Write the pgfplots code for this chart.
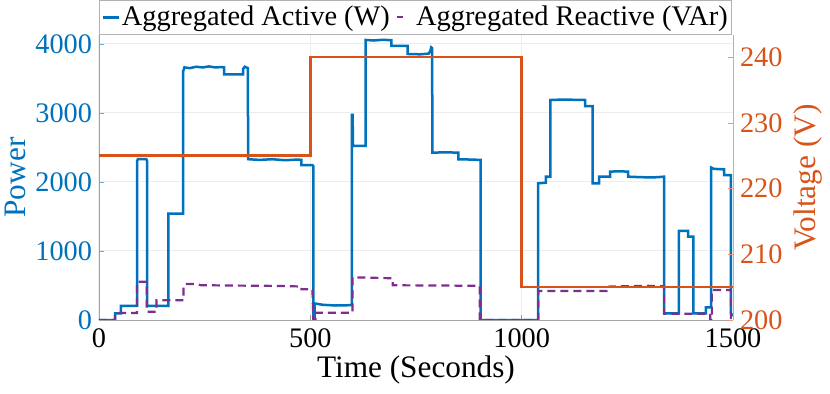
\documentclass[border=0pt]{standalone}
\usepackage{pgfplots}
\pgfplotsset{compat=1.18}
\usepackage{fontspec}
\setmainfont{Liberation Serif}

\definecolor{mblue}{HTML}{0072BD}
\definecolor{morange}{HTML}{D95319}
\definecolor{mpurple}{HTML}{7E2F8E}

\pgfplotsset{
  legsolid/.style={legend image code/.code={\draw[##1] (0bp,0bp) -- (8bp,0bp);}},
  legdash/.style={legend image code/.code={\draw[##1, dash pattern=on 3bp off 9bp] (0bp,0bp) -- (8bp,0bp);}},
}

\begin{document}
\begin{tikzpicture}
\pgfplotsset{
  every axis/.append style={
    scale only axis, width=317bp, height=142.5bp,
    xmin=0, xmax=1500,
    font=\fontsize{14.2}{16}\selectfont,
    label style={font=\fontsize{15.7}{18}\selectfont},
    tick align=inside, major tick length=2.5bp,
    /pgf/number format/assume math mode=true,
    /pgf/number format/1000 sep={},
  },
}
\begin{axis}[
  axis y line*=left, axis x line*=bottom,
  ymin=0, ymax=4130,
  ytick={0,1000,2000,3000,4000},
  xtick={0,500,1000,1500},
  grid=major, grid style={black!7, line width=0.5pt},
  y axis line style={mblue!55},
  x axis line style={black!35},
  ytick style={mblue!60}, xtick style={black!40},
  yticklabel style={mblue},
  xticklabel style={yshift=-1bp},
  ylabel={Power}, ylabel style={mblue, yshift=-2bp},
  xlabel={Time (Seconds)}, xlabel style={yshift=3bp},
  legend columns=2,
  legend cell align=left,
  legend style={at={(rel axis cs:0,1)}, anchor=south west,
    draw=black!30, fill=white, inner xsep=1bp, inner ysep=1.5bp,
    font=\fontsize{14.25}{16}\selectfont,
    nodes={inner xsep=1bp, inner ysep=1.5bp},
    /tikz/every even column/.append style={column sep=2bp}},
]
\addplot[mblue, line width=1.25bp, legsolid] coordinates {
(0,0)(38,0)(38,97)(52,97)(52,203)(90,203)(90,2300)(92,2330)(112,2330)(114,2300)(114,203)
(164,203)(164,1540)(199,1540)(199,3600)(202,3660)(215,3650)(230,3670)(245,3660)(260,3675)
(275,3660)(290,3665)(296,3660)(296,3560)(341,3560)(341,3640)(345,3670)(352,3650)(353,2330)
(380,2320)(410,2330)(440,2315)(470,2325)(479,2320)(479,2246)(505,2246)(507,2230)(507,10)
(510,10)(510,240)(530,220)(560,210)(598,215)(598,2971)(600,2971)(601,2522)(631,2522)
(631,4058)(650,4050)(670,4060)(692,4055)(692,3971)(730,3971)(730,3855)(760,3850)(780,3860)
(784,3900)(786,3950)(788,3940)(789,2425)(820,2430)(850,2425)(850,2329)(880,2325)(903,2320)
(903,0)(1039,0)(1039,1981)(1057,1990)(1057,2077)(1068,2077)(1068,3188)(1100,3195)(1130,3190)
(1150,3188)(1150,3101)(1168,3101)(1168,1981)(1183,1981)(1183,2077)(1209,2077)(1209,2150)
(1230,2155)(1252,2150)(1252,2077)(1280,2070)(1310,2065)(1337,2077)(1337,97)(1372,97)
(1372,1290)(1394,1290)(1394,1208)(1406,1208)(1406,97)(1436,97)(1436,183)(1448,183)
(1448,2210)(1455,2190)(1479,2183)(1479,2100)(1495,2100)(1495,97)(1500,60)
};
\addlegendentry{Aggregated Active (W)}
\addplot[mpurple, line width=1.1bp, dash pattern=on 4bp off 2.5bp, legdash] coordinates {
(0,0)(38,0)(38,100)(90,100)(90,555)(113,555)(113,120)(136,120)(136,285)(200,285)(200,500)
(205,522)(230,522)(240,505)(300,500)(400,495)(450,490)(479,485)(479,445)(505,445)(507,0)
(512,0)(512,106)(600,106)(600,619)(650,612)(695,604)(695,503)(800,500)(901,495)(901,0)
(1039,0)(1039,420)(1201,420)(1201,483)(1250,490)(1300,495)(1337,490)(1337,90)(1446,90)
(1446,0)(1450,0)(1450,435)(1495,435)(1495,0)(1500,0)
};
\addlegendentry{Aggregated Reactive (VAr)}
\end{axis}
\begin{axis}[
  axis y line*=right, axis x line=none,
  ymin=200, ymax=243.35,
  ytick={200,210,220,230,240},
  y axis line style={morange!55},
  ytick style={morange!60},
  yticklabel style={morange},
  ylabel={Voltage (V)}, ylabel style={morange, yshift=1bp},
]
\addplot[morange, line width=1.25bp] coordinates {
(0,225)(500,225)(500,240)(1000,240)(1000,205)(1500,205)
};
\end{axis}
\pgfresetboundingbox
\path[use as bounding box] (-49.5bp,-37bp) rectangle (365.5bp,160bp);
\end{tikzpicture}
\end{document}
